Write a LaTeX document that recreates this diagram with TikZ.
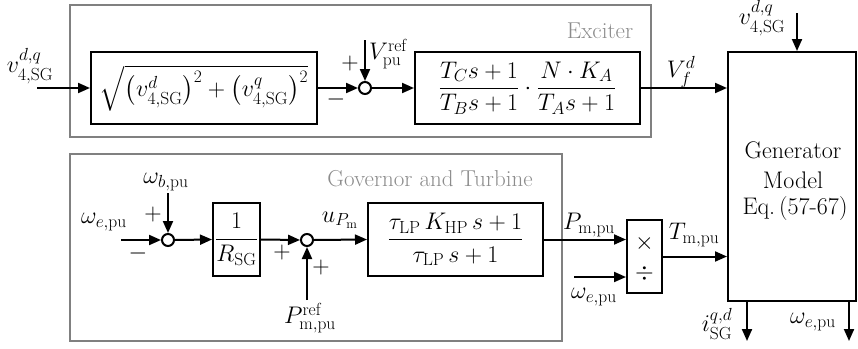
\RequirePackage{fix-cm}
\documentclass[tikz,border=0pt]{standalone}
\usepackage{amsmath}
\usepackage{fontspec}
\usetikzlibrary{arrows.meta}
\DeclareMathSizes{24}{24}{17.5}{13}
\definecolor{framegray}{RGB}{128,128,128}
\definecolor{labelgray}{RGB}{140,140,140}
\begin{document}
\begin{tikzpicture}[x=1pt,y=-1pt,
  lbl/.style={font=\fontsize{24}{29}\selectfont, inner sep=0pt},
  glbl/.style={font=\fontsize{23}{28}\selectfont, inner sep=0pt, text=labelgray},
  blk/.style={draw, line width=2pt, rectangle, inner sep=0pt, font=\fontsize{24}{29}\selectfont},
  sumj/.style={draw, line width=2pt, circle, minimum size=12pt, inner sep=0pt},
  grp/.style={draw=framegray, line width=2pt},
  sig/.style={line width=2pt, -{Triangle[length=12pt,width=10pt]}},
  ]
\useasboundingbox (0,0) rectangle (858,348);

% group frames
\draw[grp] (70,5) rectangle (651,137);
\draw[grp] (70,154) rectangle (562,341);
\node[glbl] (exclbl) at (600,31) {Exciter};
\node[glbl] (govlbl) at (430,179) {Governor and Turbine};

% exciter blocks
\node[blk, minimum width=226pt, minimum height=72pt] (sq) at (204,88)
  {$\sqrt{\bigl(v_{4,\mathrm{SG}}^{d}\bigr)^2+\bigl(v_{4,\mathrm{SG}}^{q}\bigr)^2}$};
\node[sumj] (s1) at (365,88) {};
\node[blk, minimum width=225pt, minimum height=72pt] (tf1) at (527.5,88)
  {$\dfrac{T_C s+1}{T_B s+1}\cdot\dfrac{N\cdot K_A}{T_A s+1}$};

% generator
\node[blk, minimum width=128pt, minimum height=249pt] (gen) at (792,176.5) {};
\node[lbl] (g1) at (793,150) {Generator};
\node[lbl] (g2) at (793,180) {Model};
\node[lbl] (g3) at (795,209) {Eq.\,(57-67)};

% governor blocks
\node[sumj] (s2) at (168,240) {};
\node[blk, minimum width=47pt, minimum height=73pt] (rb) at (236.5,239.5)
  {$\dfrac{1}{R_{\mathrm{SG}}}$};
\node[sumj] (s3) at (307,240) {};
\node[blk, minimum width=175pt, minimum height=73pt] (tf2) at (455.5,239.5)
  {$\dfrac{\tau_{\mathrm{LP}}\,K_{\mathrm{HP}}\,s+1}{\tau_{\mathrm{LP}}\,s+1}$};
\node[blk, minimum width=35pt, minimum height=73pt] (mult) at (644.5,256.5) {};
\node[lbl] (times) at (644.5,243) {$\times$};
\node[lbl] (divi) at (644.5,273) {$\div$};

% free ends
\coordinate (in1) at (37,88);
\coordinate (vr) at (365,40);
\coordinate (vtop) at (797,13);
\coordinate (o1) at (747,341);
\coordinate (o2) at (849,341);
\coordinate (we) at (121,240);
\coordinate (wb) at (168,193);
\coordinate (pr) at (307,300);
\coordinate (wi) at (574,277);

% connectors
\draw[sig] (in1) -- (sq.west);
\draw[sig] (sq.east) -- (s1.west);
\draw[sig] (vr) -- (s1.north);
\draw[sig] (s1.east) -- (tf1.west);
\draw[sig] (tf1.east) -- (tf1.east -| gen.west);
\draw[sig] (vtop) -- (vtop |- gen.north);
\draw[sig] (o1 |- gen.south) -- (o1);
\draw[sig] (o2 |- gen.south) -- (o2);
\draw[sig] (we) -- (s2.west);
\draw[sig] (wb) -- (s2.north);
\draw[sig] (s2.east) -- (rb.west);
\draw[sig] (rb.east) -- (s3.west);
\draw[sig] (pr) -- (s3.south);
\draw[sig] (s3.east) -- (tf2.west);
\draw[sig] (tf2.east) -- (tf2.east -| mult.west);
\draw[sig] (wi) -- (wi -| mult.west);
\draw[sig] (mult.east) -- (mult.east -| gen.west);

% labels
\node[lbl] (lv1) at (30,66) {$v_{4,\mathrm{SG}}^{d,q}$};
\node[lbl, anchor=west] (lvr) at (369,54) {$V_{\mathrm{pu}}^{\mathrm{ref}}$};
\node[lbl] (p1) at (350,63) {$+$};
\node[lbl] (m1) at (336,99) {$-$};
\node[lbl] (lvf) at (681,72) {$V_f^d$};
\node[lbl] (lv2) at (762,18) {$v_{4,\mathrm{SG}}^{d,q}$};
\node[lbl] (li) at (717,324) {$i_{\mathrm{SG}}^{q,d}$};
\node[lbl] (lwo) at (813,322) {$\omega_{e,\mathrm{pu}}$};
\node[lbl] (lwb) at (166,182) {$\omega_{b,\mathrm{pu}}$};
\node[lbl] (lwe) at (104,222) {$\omega_{e,\mathrm{pu}}$};
\node[lbl] (p2) at (153,214) {$+$};
\node[lbl] (m2) at (138,253) {$-$};
\node[lbl] (p3) at (282,252) {$+$};
\node[lbl] (p4) at (321,267) {$+$};
\node[lbl] (lu) at (340,220) {$u_{P_{\mathrm{m}}}$};
\node[lbl] (lpr) at (310,318) {$P_{\mathrm{m,pu}}^{\mathrm{ref}}$};
\node[lbl] (lpm) at (589,225) {$P_{\mathrm{m,pu}}$};
\node[lbl] (lwi) at (594,297) {$\omega_{e,\mathrm{pu}}$};
\node[lbl] (ltm) at (694,235) {$T_{\mathrm{m,pu}}$};
\end{tikzpicture}
\end{document}
